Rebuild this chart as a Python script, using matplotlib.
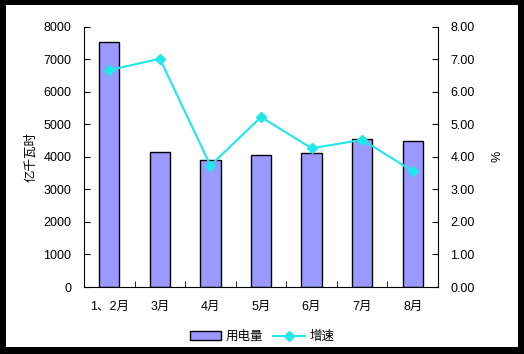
import matplotlib
matplotlib.use("Agg")
import matplotlib.pyplot as plt
from matplotlib.patches import Rectangle

plt.rcParams["font.family"] = ["Liberation Sans", "Noto Sans CJK SC", "DejaVu Sans"]

# data
months = ["1、2月", "3月", "4月", "5月", "6月", "7月", "8月"]
usage = [7520, 4140, 3890, 4050, 4100, 4540, 4480]
growth = [6.66, 7.01, 3.73, 5.22, 4.26, 4.52, 3.56]

fig = plt.figure(figsize=(5.24, 3.54), dpi=100, facecolor="black")
# white panel inside black frame
fig.patches.append(Rectangle((6 / 524, 7 / 354), 512 / 524, 342 / 354,
                             transform=fig.transFigure, facecolor="white",
                             edgecolor="none", zorder=-10))

ax = fig.add_axes([84 / 524, 67 / 354, 354 / 524, 260.5 / 354])
ax.set_facecolor("none")
x = list(range(len(months)))
bars = ax.bar(x, usage, width=0.4, color="#9999FF", edgecolor="black",
              linewidth=1, label="用电量")
ax.set_xlim(-0.5, len(months) - 0.5)
ax.set_ylim(0, 8000)
ax.set_yticks(range(0, 8001, 1000))
ax.set_xticks(x)
ax.set_xticklabels(months)
ax.set_xticks([i + 0.5 for i in x[:-1]], minor=True)
ax.tick_params(axis="x", which="major", length=0, pad=10, labelsize=9)
ax.tick_params(axis="x", which="minor", direction="in", length=4)
ax.tick_params(axis="y", direction="in", length=4, labelsize=9, pad=9)
ax.spines["top"].set_visible(False)
ax.spines["right"].set_visible(False)
ax.set_ylabel("亿千瓦时", fontsize=9, labelpad=4)

ax2 = ax.twinx()
line, = ax2.plot(x, growth, color="#1EE8E8", linewidth=1.5, marker="D",
                 markersize=5.5, label="增速")
ax2.set_ylim(0, 8)
ax2.set_yticks(range(0, 9))
ax2.set_yticklabels([f"{v:.2f}" for v in range(0, 9)])
ax2.tick_params(axis="y", direction="in", length=4, labelsize=9, pad=9)
for s in ["top", "left", "bottom"]:
    ax2.spines[s].set_visible(False)
ax2.set_ylabel("%", fontsize=9, labelpad=12)

fig.legend([bars, line], ["用电量", "增速"], loc="center",
           bbox_to_anchor=(262 / 524, 1 - 337 / 354), ncol=2, frameon=False,
           fontsize=9, handlelength=2.5, columnspacing=0.8, handletextpad=0.4)

fig.savefig("out.png", dpi=100, facecolor="black")
